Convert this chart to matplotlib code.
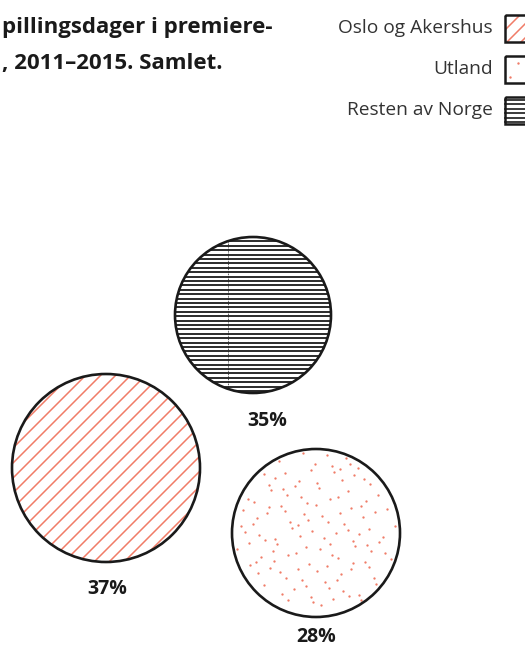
import numpy as np
import matplotlib.pyplot as plt
from matplotlib.patches import Circle, Rectangle

plt.rcParams['font.family'] = ['Open Sans', 'DejaVu Sans']

# data
categories = ["Resten av Norge", "Oslo og Akershus", "Utland"]
shares = [35, 37, 28]
legend_order = ["Oslo og Akershus", "Utland", "Resten av Norge"]
title_lines = ["pillingsdager i premiere-", ", 2011\u20132015. Samlet."]

salmon = "#F07C68"
ink = "#1a1a1a"

# layout in pixel units (x, y, r) and label positions
circ = {
    "Resten av Norge": (253, 315, 78),
    "Oslo og Akershus": (106, 468, 94),
    "Utland": (316, 533, 84),
}
lab = {
    "Resten av Norge": (267, 421),
    "Oslo og Akershus": (107, 589),
    "Utland": (316, 637),
}

fig = plt.figure(figsize=(5.25, 6.46), dpi=100)
ax = fig.add_axes([0, 0, 1, 1])
ax.set_xlim(0, 525)
ax.set_ylim(646, 0)
ax.set_aspect('equal')
ax.axis('off')


def halton(i, b):
    f, r = 1.0, 0.0
    while i > 0:
        f /= b
        r += f * (i % b)
        i //= b
    return r


def fill_pattern(kind, cx, cy, r, clip):
    if kind == "Resten av Norge":
        ys = np.arange(cy - r, cy + r, 4.4)
        for y in ys:
            ln, = ax.plot([cx - r, cx + r], [y, y], color=ink, lw=1.3, zorder=2)
            ln.set_clip_path(clip)
        ln, = ax.plot([cx - 25, cx - 25], [cy - r, cy + r], color=ink, lw=0.6,
                      ls=(0, (1, 1)), zorder=2)
        ln.set_clip_path(clip)
    elif kind == "Oslo og Akershus":
        for k in np.arange(-2 * r, 2 * r, 15):
            ln, = ax.plot([cx + k - r, cx + k + r], [cy + r, cy - r],
                          color=salmon, lw=1.1, zorder=2)
            ln.set_clip_path(clip)
    else:
        pts = []
        i = 1
        while len(pts) < 125:
            u, v = halton(i, 2), halton(i, 3)
            i += 1
            x, y = cx + (2 * u - 1) * r, cy + (2 * v - 1) * r
            if (x - cx) ** 2 + (y - cy) ** 2 < (r - 3) ** 2:
                pts.append((x, y))
        pts = np.array(pts)
        ax.scatter(pts[:, 0], pts[:, 1], s=2.8, color=salmon, lw=0, zorder=2)


for name, val in zip(categories, shares):
    cx, cy, r = circ[name]
    clip = Circle((cx, cy), r, transform=ax.transData)
    fill_pattern(name, cx, cy, r, clip)
    ax.add_patch(Circle((cx, cy), r, fill=False, ec=ink, lw=1.9, zorder=3))
    lx, ly = lab[name]
    ax.text(lx, ly, f"{val}%", ha='center', va='center', fontsize=14,
            fontweight='bold', color=ink)

# title (cut at left edge)
ax.text(272, 28, title_lines[0], ha='right', va='center', fontsize=16,
        fontweight='bold', color=ink)
ax.text(222, 64, title_lines[1], ha='right', va='center', fontsize=16,
        fontweight='bold', color=ink)

# legend
for j, name in enumerate(legend_order):
    y = 28 + 41 * j
    ax.text(493, y, name, ha='right', va='center', fontsize=13.8, color='#333333')
    bx, by, bw = 505, y - 13, 28
    clip = Rectangle((bx, by), bw, 27, transform=ax.transData)
    if name == "Oslo og Akershus":
        for k in [-12, 2, 16]:
            ln, = ax.plot([bx + k, bx + k + 27], [by + 27, by], color=salmon, lw=1.1)
            ln.set_clip_path(clip)
    elif name == "Utland":
        ax.scatter([bx + 5, bx + 13], [by + 21, by + 7], s=3, color=salmon, lw=0)
    else:
        for yy in np.arange(by + 3, by + 27, 4.4):
            ax.plot([bx, bx + bw], [yy, yy], color=ink, lw=1.2)
    ax.add_patch(Rectangle((bx, by), bw, 27, fill=False, ec=ink, lw=1.8, zorder=3))

fig.savefig("out.png", dpi=100)
